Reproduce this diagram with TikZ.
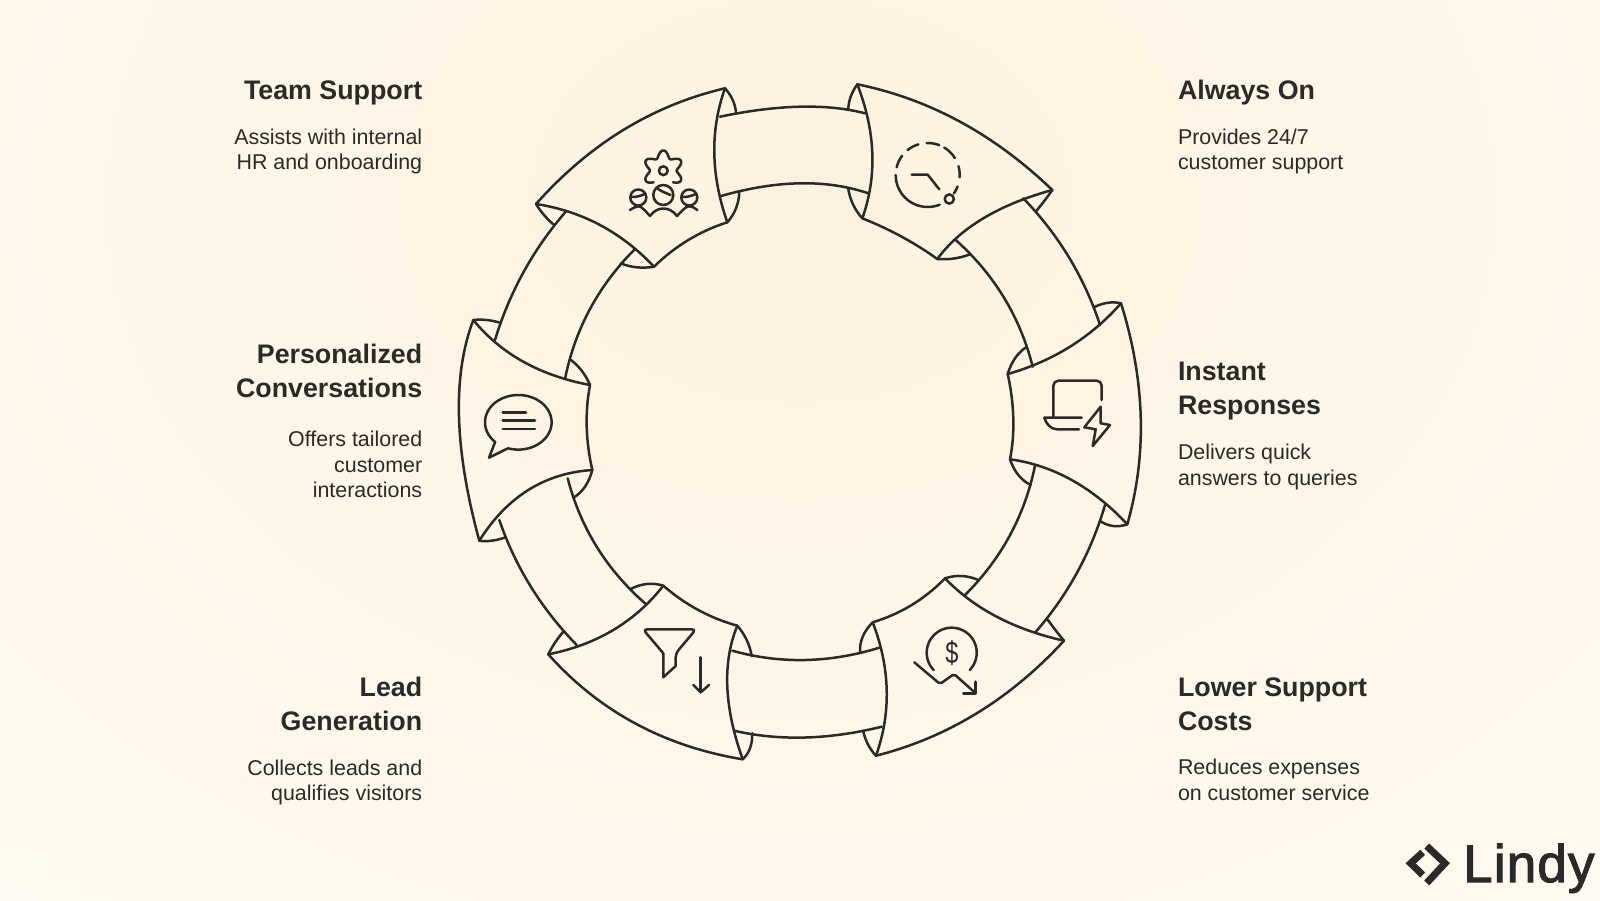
\documentclass[tikz,border=0pt]{standalone}
\usepackage{graphicx}
\usepackage{fontspec}
\setmainfont{Liberation Sans}
\newfontfamily\logofont[FakeBold=2,LetterSpace=2.2]{Liberation Sans}
\definecolor{ink}{HTML}{2A2A2A}
\definecolor{bgbase}{HTML}{FEFBF5}
\definecolor{bgcream}{HTML}{FDF2DF}
\newcommand\qc[6]{%
 \pgfmathsetmacro\qqx{2*#3-(#1+#5)/2}\pgfmathsetmacro\qqy{2*#4-(#2+#6)/2}%
 \pgfmathsetmacro\qax{#1+2/3*(\qqx-#1)}\pgfmathsetmacro\qay{#2+2/3*(\qqy-#2)}%
 \pgfmathsetmacro\qbx{#5+2/3*(\qqx-#5)}\pgfmathsetmacro\qby{#6+2/3*(\qqy-#6)}%
 \draw[ring] (#1,#2) .. controls (\qax,\qay) and (\qbx,\qby) .. (#5,#6);}
\tikzset{
 ring/.style={draw=ink,line width=2.5pt,line cap=round,line join=round},
 icon/.style={draw=ink,line width=2.5pt,line cap=round,line join=round},
 head/.style={inner sep=0pt,text=ink,font=\bfseries\fontsize{26.8}{34}\selectfont},
 body/.style={inner sep=0pt,text=ink,font=\fontsize{21.4}{25.5}\selectfont},
}
\begin{document}
\begin{tikzpicture}[x=1pt,y=-1pt]
\useasboundingbox (0,0) rectangle (1600,900);
\clip (0,0) rectangle (1600,900);
\fill[bgbase] (0,0) rectangle (1600,900);
\shade[inner color=bgcream,outer color=bgbase] (-800,-1000) rectangle (2400,1400);
% Team Support segment
\qc{725}{88.3}{623.3}{130}{536}{204}
\qc{536}{204}{600}{225}{654}{266.7}
\qc{654}{266.7}{688.3}{240}{727.3}{222.3}
\qc{725}{88.3}{714.3}{153.3}{727.3}{222.3}
\qc{725}{88.3}{732.7}{100}{736}{112.7}
\qc{727.3}{222.3}{736}{208.3}{739.3}{191.7}
\qc{536}{204}{544}{215}{553.3}{224.3}
\qc{654}{266.7}{636.7}{267.3}{620.7}{263.3}
% connector Team - Always
\qc{720}{116.7}{800}{106.7}{865}{113.3}
\qc{721}{196}{800}{183.3}{868.3}{193.3}
% Always On segment
\qc{857.3}{84.3}{960}{121.7}{1052.3}{190}
\qc{1052.3}{190}{983.3}{218.3}{937.3}{259}
\qc{937.3}{259}{901.7}{236.7}{862.3}{218.3}
\qc{857.3}{84.3}{872.3}{153.3}{862.3}{218.3}
\qc{857.3}{84.3}{850.7}{96.7}{848.3}{109.3}
\qc{862.3}{218.3}{853.3}{205}{848.3}{189.3}
\qc{1052.3}{190}{1045}{200}{1035.7}{211.7}
\qc{937.3}{259}{954}{258.5}{970}{254.3}
% connector Always - Instant
\qc{955.7}{240}{1003.9}{297.5}{1032.7}{366.7}
\qc{1023.3}{198.3}{1069}{257.4}{1100}{325}
% Instant Responses segment
\qc{1121}{303.3}{1140.7}{416.7}{1127.3}{524.3}
\qc{1007.7}{374}{1070}{346.7}{1121}{303.3}
\qc{1010}{459.3}{1071.7}{480}{1127.3}{524.3}
\qc{1007.7}{374}{1013.3}{418.3}{1010}{459.3}
\qc{1121}{303.3}{1108.3}{302.7}{1095}{306.7}
\qc{1007.7}{374}{1015}{358.3}{1026}{347.3}
\qc{1010}{459.3}{1018.3}{475}{1030.7}{485}
\qc{1127.3}{524.3}{1113.3}{526}{1100}{521}
% connector Instant - Lower
\qc{1035}{465.7}{1009.8}{535.5}{965}{595}
\qc{1105}{505}{1077}{572.7}{1035}{632.7}
% Lower Support segment
\qc{1064}{640.7}{976.7}{713.3}{876}{755.7}
\qc{945}{578.3}{996.7}{616.7}{1064}{640.7}
\qc{872.7}{622.3}{911.7}{605}{945}{578.3}
\qc{872.7}{622.3}{886.7}{690}{876}{755.7}
\qc{872.7}{622.3}{862.7}{636.7}{860}{652.7}
\qc{876}{755.7}{868.3}{745}{863.3}{731.7}
\qc{945}{578.3}{961.7}{576}{978.3}{580}
\qc{1064}{640.7}{1056.7}{631.7}{1047.3}{619.3}
% connector Lower - Lead
\qc{732.3}{650.7}{805}{660}{879.3}{647.7}
\qc{734}{730.7}{805}{737.5}{881.7}{726.7}
% Lead Generation segment
\qc{548.3}{654.3}{635}{723.3}{742.7}{759.3}
\qc{548.3}{654.3}{613.3}{630}{663.3}{585.7}
\qc{663.3}{585.7}{698.3}{610}{737.3}{625.7}
\qc{737.3}{625.7}{727.3}{686.7}{742.7}{759.3}
\qc{548.3}{654.3}{555}{642.7}{563.3}{631.7}
\qc{663.3}{585.7}{646.7}{584}{630}{589.3}
\qc{737.3}{625.7}{746.7}{640}{751.7}{656}
\qc{742.7}{759.3}{750}{748.3}{752.3}{733.3}
% connector Lead - Personalized
\qc{567.7}{478.3}{596.6}{546.6}{645}{603.3}
\qc{499.3}{520}{530.8}{586.6}{576.7}{645}
% Personalized segment
\qc{473.3}{320}{459}{416.7}{479.3}{540.7}
\qc{473.3}{320}{523.3}{361.7}{590}{385}
\qc{479.3}{540.7}{528.3}{490}{592.3}{470}
\qc{590}{385}{586.7}{426.7}{592.3}{470}
\qc{473.3}{320}{486.7}{320}{500}{322.7}
\qc{590}{385}{581.7}{370.7}{570}{359.3}
\qc{592.3}{470}{585}{486.7}{573.3}{497.7}
\qc{479.3}{540.7}{491.7}{540.7}{505.7}{537.3}
% connector Personalized - Team
\qc{565}{379}{590}{309}{635}{249}
\qc{495}{340}{523.6}{272}{565.7}{211.7}
% gear + people icon
\draw[icon] (663.3,195) circle[radius=10];
\draw[icon] (638.3,197.5) circle[radius=8];
\draw[icon] (689.3,197.5) circle[radius=8];
\draw[icon] (663.3,170.7) circle[radius=4.4];
\draw[icon] plot[domain=-50:230,samples=141] ({663.3+(16.8+3.4*cos(6*(\x-90)))*cos(\x)},{170.7-(16.8+3.4*cos(6*(\x-90)))*sin(\x)});
\draw[icon] (657,188) .. controls (660,191) and (665,192.5) .. (670.5,195);
\draw[icon] (631.5,197) .. controls (636,197.5) and (641,195.5) .. (645,194);
\draw[icon] (682.5,197) .. controls (687,197.5) and (692,195.5) .. (696,194);
\draw[icon] (630,210) .. controls (633,208) and (636,206.3) .. (638.5,206.3) .. controls (642,206.3) and (646,212) .. (650,216) .. controls (654,210.5) and (659,208.5) .. (663.3,208.5) .. controls (668,208.5) and (673,210.5) .. (677,216) .. controls (681,212) and (685.5,206.3) .. (689,206.3) .. controls (692,206.3) and (695,208) .. (697.3,210);
% clock icon
\foreach \a/\b in {180/292,143/166,107/129,69/92,32/59,-4/16,-35/-21}{
 \draw[icon] plot[domain=\a:\b,samples=25] ({927.7+32*cos(\x)},{175-32*sin(\x)});}
\draw[icon] (949.3,199) circle[radius=4.6];
\draw[icon] (911.7,174.7) -- (927.7,174.7) -- (939.3,189.3);
% laptop icon
\draw[icon,rounded corners=5pt] (1053.3,416.7) -- (1053.3,380.7) -- (1101.7,380.7) -- (1101.7,400);
\draw[icon] (1081.7,417.7) -- (1044.3,417.7) .. controls (1046,423) and (1050,429.3) .. (1057,429.3) -- (1079,429.3);
\draw[icon] (1100.7,406.7) -- (1084.3,427.3) -- (1095.7,429.3) -- (1092.7,446) -- (1110,425) -- (1100.7,423.3) -- cycle;
% chat icon
\draw[icon] plot[domain=252:586,samples=120] ({518.3+33.3*cos(\x)},{422.3-27.3*sin(\x)}) -- (489,457.7) -- cycle;
\draw[icon] (502.7,412.3) -- (526,412.3);
\draw[icon] (502.7,420.7) -- (535,420.7);
\draw[icon] (502.7,429) -- (535,429);
% funnel icon
\draw[icon] (663.3,653.3) [rounded corners=4pt] -- (643,629.3) -- (696,629.3) -- (675.7,653.3) [sharp corners] -- (675.7,666) -- (663.3,677.3) -- cycle;
\draw[icon] (700.7,657.3) -- (700.7,692.3);
\draw[icon] (693.3,685) -- (700.7,692.3) -- (709,685);
% dollar icon
\draw[icon] plot[domain=-44:224,samples=60] ({951.7+25*cos(\x)},{652.7-25*sin(\x)});
\node[inner sep=0pt,text=ink,font=\fontsize{31}{31}\selectfont] (dollar) at (952,653.5) {\scalebox{.76}[1]{\$}};
\draw[icon,rounded corners=2pt] (914.3,662.3) -- (940,684) -- (954,674) -- (975.7,693.3);
\draw[icon] (975.7,681.7) -- (975.7,693.3) -- (963.3,693.3);
% texts, left
\node[head,anchor=east,align=right] (h1) at (422.4,92.8) {Team Support};
\node[body,anchor=east,align=right] (b1) at (422.4,151.5) {Assists with internal\\HR and onboarding};
\node[head,anchor=east,align=right] (h2) at (422.4,371) {Personalized\\Conversations};
\node[body,anchor=east,align=right] (b2) at (422.4,464.6) {Offers tailored\\customer\\interactions};
\node[head,anchor=east,align=right] (h3) at (422.4,703.6) {Lead\\Generation};
\node[body,anchor=east,align=right] (b3) at (422.4,782.5) {Collects leads and\\qualifies visitors};
% texts, right
\node[head,anchor=west,align=left] (h4) at (1177.8,92.8) {Always On};
\node[body,anchor=west,align=left] (b4) at (1177.8,151.5) {Provides 24/7\\customer support};
\node[head,anchor=west,align=left] (h5) at (1177.8,391.3) {Instant\\Responses};
\node[body,anchor=west,align=left] (b5) at (1177.8,466.8) {Delivers quick\\answers to queries};
\node[head,anchor=west,align=left] (h6) at (1177.8,704.6) {Lower Support\\Costs};
\node[body,anchor=west,align=left] (b6) at (1177.8,780) {Reduces expenses\\on customer service};
% logo
\draw[draw=ink,line width=7pt,miter limit=10] (1422.7,852.3) -- (1410.7,863.3) -- (1422.7,875);
\draw[draw=ink,line width=7pt,miter limit=10] (1426.7,846) -- (1445,863.3) -- (1426.7,883);
\node[inner sep=0pt,anchor=base west,text=ink,font=\logofont\fontsize{53}{53}\selectfont] (lindy) at (1463,882) {Lindy};
\end{tikzpicture}
\end{document}
